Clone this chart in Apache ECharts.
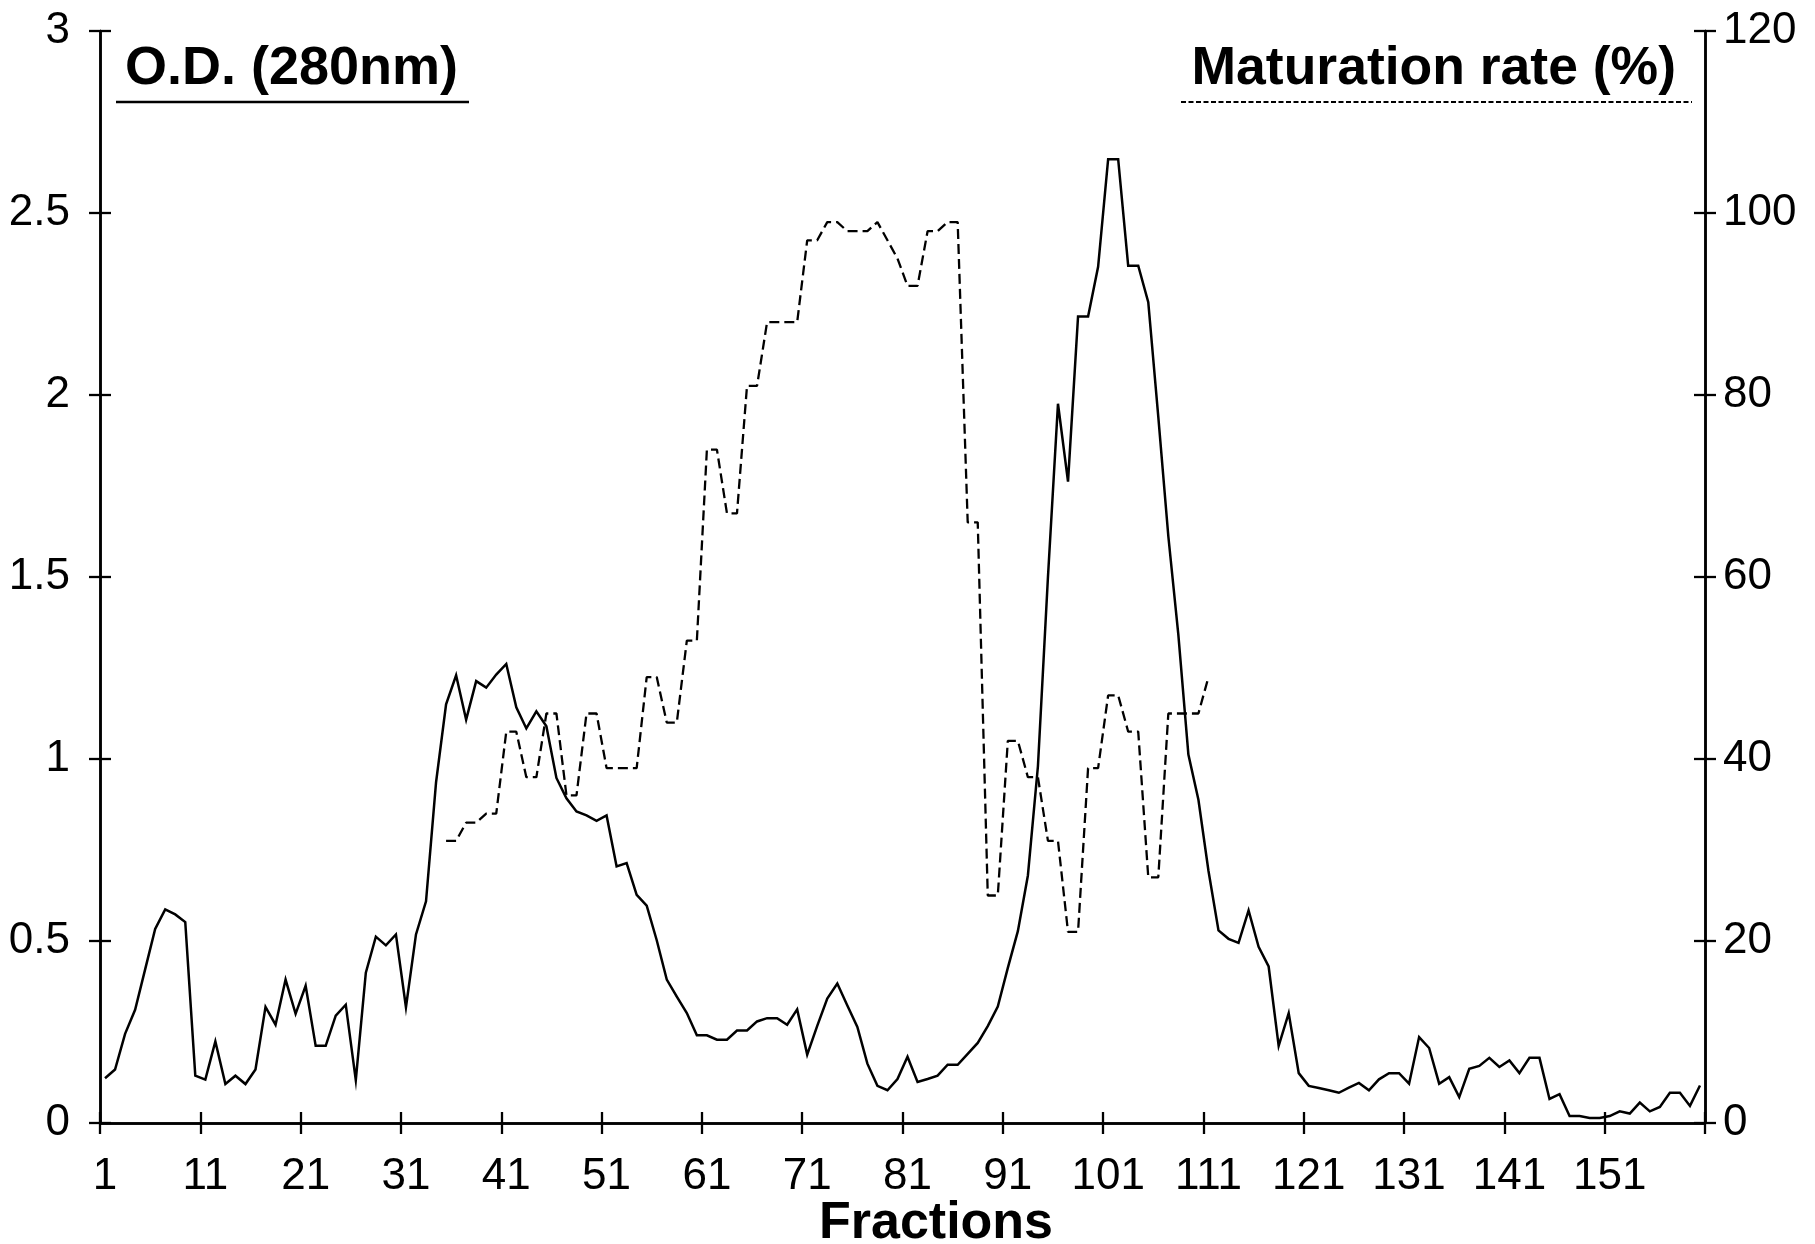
<!DOCTYPE html>
<html>
<head>
<meta charset="utf-8">
<title>O.D. and maturation rate per fraction</title>
<script src="https://cdn.jsdelivr.net/npm/echarts@6/dist/echarts.min.js"></script>
<style>
  html, body { margin: 0; padding: 0; background: #fff; }
  #chart { width: 1815px; height: 1244px; }
</style>
</head>
<body>
<div id="chart"></div>
<script>
// Fraction numbers 1..160 (x categories)
const fractions = Array.from({ length: 160 }, (_, i) => String(i + 1));

// Absorbance at 280 nm, one value per fraction
const odValues = [
  0.123, 0.147, 0.245, 0.311, 0.422, 0.533, 0.587, 0.573, 0.552, 0.130,
  0.119, 0.224, 0.107, 0.130, 0.107, 0.147, 0.319, 0.270, 0.394, 0.300,
  0.377, 0.212, 0.212, 0.295, 0.325, 0.118, 0.413, 0.512, 0.488, 0.518,
  0.318, 0.518, 0.609, 0.936, 1.150, 1.230, 1.108, 1.214, 1.196, 1.232,
  1.261, 1.142, 1.084, 1.131, 1.090, 0.948, 0.892, 0.856, 0.845, 0.830,
  0.845, 0.705, 0.714, 0.627, 0.597, 0.502, 0.394, 0.347, 0.302, 0.241,
  0.241, 0.229, 0.229, 0.254, 0.254, 0.279, 0.288, 0.288, 0.270, 0.312,
  0.188, 0.267, 0.342, 0.383, 0.323, 0.264, 0.163, 0.102, 0.090, 0.121,
  0.182, 0.113, 0.121, 0.130, 0.160, 0.160, 0.190, 0.220, 0.266, 0.320,
  0.426, 0.527, 0.680, 0.980, 1.500, 1.976, 1.762, 2.216, 2.216, 2.352,
  2.648, 2.648, 2.355, 2.355, 2.255, 1.940, 1.612, 1.341, 1.012, 0.888,
  0.693, 0.529, 0.506, 0.495, 0.584, 0.484, 0.430, 0.212, 0.302, 0.137,
  0.102, 0.096, 0.090, 0.083, 0.097, 0.110, 0.090, 0.120, 0.137, 0.137,
  0.108, 0.236, 0.206, 0.108, 0.126, 0.071, 0.149, 0.157, 0.179, 0.154,
  0.172, 0.137, 0.179, 0.179, 0.066, 0.079, 0.019, 0.019, 0.014, 0.014,
  0.019, 0.032, 0.026, 0.056, 0.032, 0.044, 0.083, 0.083, 0.047, 0.103
];

// Maturation rate (%) measured on fractions 35..111
const maturationFirstFraction = 35;
const maturationValues = [
  31, 31, 33, 33, 34, 34, 43, 43, 38, 38,
  45, 45, 36, 36, 45, 45, 39, 39, 39, 39,
  49, 49, 44, 44, 53, 53, 74, 74, 67, 67,
  81, 81, 88, 88, 88, 88, 97, 97, 99, 99,
  98, 98, 98, 99, 97, 95, 92, 92, 98, 98,
  99, 99, 66, 66, 25, 25, 42, 42, 38, 38,
  31, 31, 21, 21, 39, 39, 47, 47, 43, 43,
  27, 27, 45, 45, 45, 45, 49
];

// Axis ranges and tick steps
const odAxis = { min: 0, max: 3, interval: 0.5 };
const rateAxis = { min: 0, max: 120, interval: 20 };
const labelEvery = 10;

// Align maturation values with the fraction categories (gaps elsewhere)
const maturationSeries = fractions.map((_, i) => {
  const k = i + 1 - maturationFirstFraction;
  return (k >= 0 && k < maturationValues.length) ? maturationValues[k] : null;
});

const FONT = '"Liberation Sans", Arial, Helvetica, sans-serif';
const BLACK = '#000000';
const gridBox = { left: 100, right: 110, top: 31, bottom: 121 };
const lineW = 2.5;

const everyTenth = (idx) => idx % labelEvery === 0;

// Axis builders: the outer set carries labels and outward ticks,
// the inner set (second grid, same box) adds inward ticks -> cross ticks.
function xAxisFor(gridIndex, inner) {
  return {
    type: 'category',
    gridIndex,
    data: fractions,
    boundaryGap: true,
    position: 'bottom',
    axisLine: { show: true, onZero: false, lineStyle: { color: BLACK, width: lineW } },
    axisTick: { show: true, inside: inner, length: 11, interval: everyTenth,
                lineStyle: { color: BLACK, width: 2.3 } },
    axisLabel: { show: !inner, interval: everyTenth, margin: 32,
                 color: BLACK, fontFamily: FONT, fontSize: 44 },
    splitLine: { show: false }
  };
}
function yAxisFor(gridIndex, inner, range, side, margin) {
  return {
    type: 'value',
    gridIndex,
    position: side,
    min: range.min, max: range.max, interval: range.interval,
    axisLine: { show: true, lineStyle: { color: BLACK, width: lineW } },
    axisTick: { show: true, inside: inner, length: 11,
                lineStyle: { color: BLACK, width: 2.3 } },
    axisLabel: { show: !inner, margin, padding: [6, 0, 0, 0],
                 color: BLACK, fontFamily: FONT, fontSize: 44 },
    splitLine: { show: false }
  };
}

const chart = echarts.init(document.getElementById('chart'), null, { renderer: 'canvas' });

chart.setOption({
  backgroundColor: '#ffffff',
  animation: false,
  grid: [
    Object.assign({ containLabel: false }, gridBox),
    Object.assign({ containLabel: false }, gridBox)
  ],
  xAxis: [xAxisFor(0, false), xAxisFor(1, true)],
  yAxis: [
    yAxisFor(0, false, odAxis, 'left', 30),
    yAxisFor(0, false, rateAxis, 'right', 18),
    yAxisFor(1, true, odAxis, 'left', 30),
    yAxisFor(1, true, rateAxis, 'right', 18)
  ],
  series: [
    {
      name: 'O.D. (280nm)',
      type: 'line',
      xAxisIndex: 0,
      yAxisIndex: 0,
      data: odValues,
      showSymbol: false,
      symbol: 'none',
      lineStyle: { color: BLACK, width: 2.5, type: 'solid', join: 'miter' },
      z: 3
    },
    {
      name: 'Maturation rate (%)',
      type: 'line',
      xAxisIndex: 0,
      yAxisIndex: 1,
      data: maturationSeries,
      connectNulls: false,
      showSymbol: false,
      symbol: 'none',
      lineStyle: { color: BLACK, width: 2.3, type: [10, 5] },
      z: 2
    }
  ],
  graphic: [
    {
      type: 'text', x: 125, y: 69,
      style: { text: 'O.D. (280nm)', font: 'bold 54px ' + FONT, fill: BLACK,
               textAlign: 'left', textVerticalAlign: 'middle', verticalAlign: 'middle' }
    },
    {
      type: 'line',
      shape: { x1: 116, y1: 102, x2: 469, y2: 102 },
      style: { stroke: BLACK, lineWidth: 2.5 }
    },
    {
      type: 'text', x: 1676, y: 69,
      style: { text: 'Maturation rate (%)', font: 'bold 53.5px ' + FONT, fill: BLACK,
               textAlign: 'right', textVerticalAlign: 'middle', verticalAlign: 'middle' }
    },
    {
      type: 'line',
      shape: { x1: 1181, y1: 102, x2: 1692, y2: 102 },
      style: { stroke: BLACK, lineWidth: 2, lineDash: [5, 2.5] }
    },
    {
      type: 'text', x: 936, y: 1224,
      style: { text: 'Fractions', font: 'bold 52px ' + FONT, fill: BLACK,
               textAlign: 'center', textVerticalAlign: 'middle', verticalAlign: 'middle' }
    }
  ]
});
</script>
</body>
</html>
